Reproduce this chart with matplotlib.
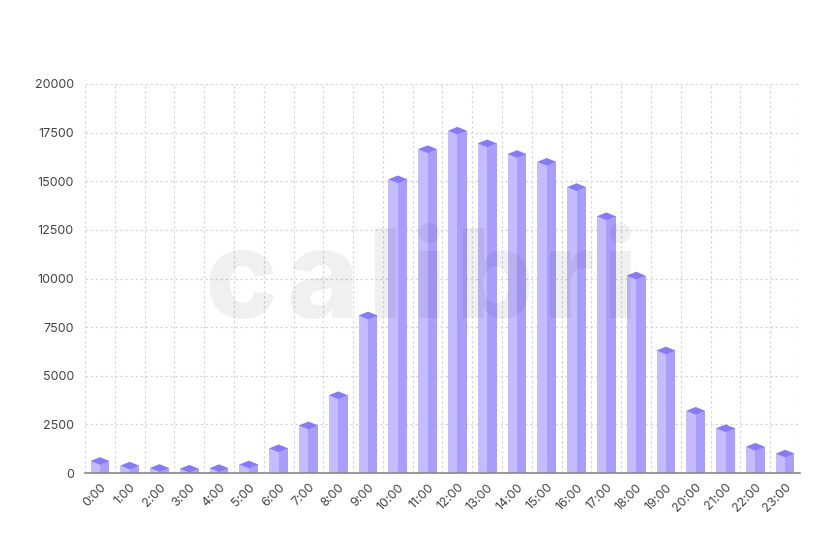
import matplotlib
matplotlib.use("Agg")
import matplotlib.pyplot as plt
from matplotlib.patches import Polygon

hours = [f"{h}:00" for h in range(24)]
values = [620, 380, 260, 220, 250, 440, 1270, 2450, 4000, 8100, 15100, 16650,
          17600, 16950, 16400, 16000, 14700, 13200, 10150, 6300, 3200, 2300, 1350, 1000]
y_ticks = [0, 2500, 5000, 7500, 10000, 12500, 15000, 17500, 20000]
watermark = "calibri"

plt.rcParams['font.family'] = ['Inter', 'DejaVu Sans']

fig = plt.figure(figsize=(8.4, 5.6), dpi=100)
ax = fig.add_axes([85/840, 1-473/560, 715/840, 389/560])

ymax = 20000
ax.set_xlim(-0.5, len(hours)-0.5)
ax.set_ylim(0, ymax)

light = '#c4bcff'
dark = '#a99dfe'
top = '#8679fb'
w = 0.63
half = w/2
ax_h_px = 389
d = 3.8 * ymax / ax_h_px

for i, v in enumerate(values):
    ax.bar(i - half/2, v, width=half, color=light, zorder=3, linewidth=0)
    ax.bar(i + half/2, v, width=half, color=dark, zorder=3, linewidth=0)
    poly = Polygon([(i - half, v), (i, v + d), (i + half, v), (i, v - d)],
                   closed=True, facecolor=top, edgecolor='none', zorder=4)
    ax.add_patch(poly)

ax.set_yticks(y_ticks)
ax.set_yticklabels([str(t) for t in y_ticks])
ax.set_xticks(range(len(hours)))
ax.set_xticklabels(hours, rotation=45, ha='right', rotation_mode='anchor')
ax.tick_params(axis='both', length=0, labelsize=9, labelcolor='#444444')
ax.tick_params(axis='x', pad=6)
ax.tick_params(axis='y', pad=8)

for t in y_ticks[1:]:
    ax.axhline(t, color='#d8d8d8', linestyle=(0, (2, 2)), linewidth=0.9, zorder=1)
for b in range(len(hours)+1):
    ax.axvline(b - 0.5, color='#d8d8d8', linestyle=(0, (2, 2)), linewidth=0.9, zorder=1)

for s in ['top', 'right', 'left']:
    ax.spines[s].set_visible(False)
ax.spines['bottom'].set_color('#888888')
ax.spines['bottom'].set_linewidth(1.2)
ax.spines['bottom'].set_zorder(5)

# watermark: letters spread across a fixed width
fig.canvas.draw()
renderer = fig.canvas.get_renderer()
wm_kw = dict(fontsize=88, fontweight='heavy', color='#000000', alpha=0.06,
             zorder=10, family=['Inter', 'DejaVu Sans'], va='baseline', ha='left')
texts = [fig.text(0, 0, ch, **wm_kw) for ch in watermark]
widths = [t.get_window_extent(renderer).width for t in texts]
x0, x1, base = 205, 637, 318
gap = (x1 - x0 - sum(widths)) / (len(watermark) - 1)
x = x0
for t, wd in zip(texts, widths):
    t.set_position((x / 840, 1 - base / 560))
    x += wd + gap

fig.savefig('out.png', dpi=100)
